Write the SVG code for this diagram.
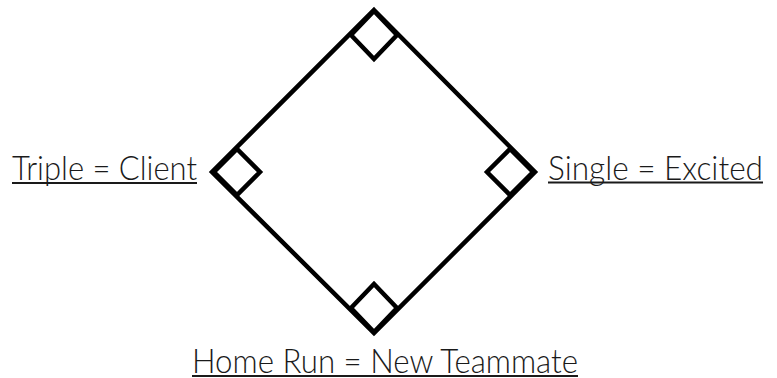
<svg xmlns="http://www.w3.org/2000/svg" width="777" height="378" viewBox="0 0 777 378">
<style>
.ln{fill:none;stroke:#000;stroke-width:4.5;stroke-linejoin:miter}
.sq{fill:#fff;stroke:#000;stroke-width:4.5}
.lb{font-family:Lato,"Liberation Sans",sans-serif;font-weight:300;font-size:33px;fill:#1a1a1a}
.ul{stroke:#1a1a1a;stroke-width:2.2}
</style>
<rect width="777" height="378" fill="#fff"/>
<g id="connectors">
<polygon class="ln" points="374,10 535,172 374,333 212,172"/>
</g>
<g id="base-top"><polygon class="sq" points="374,11 397,35 374,59 351,35"/></g>
<g id="base-right"><polygon class="sq" points="533,172 510,149 487,172 510,195"/></g>
<g id="base-left"><polygon class="sq" points="214,172 237,149 260,172 237,195"/></g>
<g id="base-bottom"><polygon class="sq" points="374,332 397,308 374,284 351,308"/></g>
<g id="label-single">
<text class="lb" x="548" y="179.5" textLength="215" lengthAdjust="spacingAndGlyphs">Single = Excited</text>
<line class="ul" x1="548" y1="182.5" x2="763" y2="182.5"/>
</g>
<g id="label-triple">
<text class="lb" x="12" y="180" textLength="185" lengthAdjust="spacingAndGlyphs">Triple = Client</text>
<line class="ul" x1="12" y1="183" x2="197" y2="183"/>
</g>
<g id="label-home">
<text class="lb" x="192" y="372.5" textLength="386" lengthAdjust="spacingAndGlyphs">Home Run = New Teammate</text>
<line class="ul" x1="192" y1="376" x2="578" y2="376"/>
</g>
</svg>
